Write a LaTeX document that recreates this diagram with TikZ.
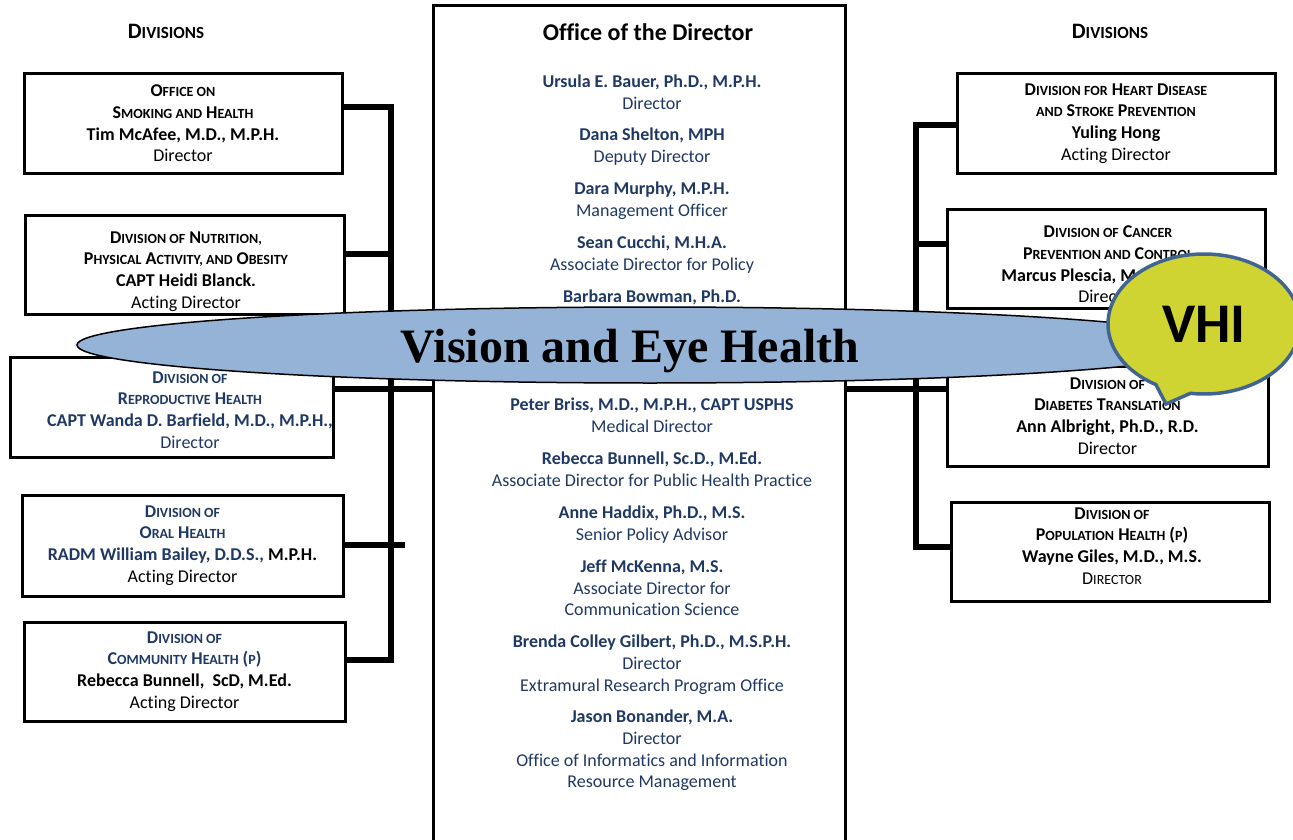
\documentclass[tikz,border=0pt]{standalone}
\usepackage{fontspec}
\setmainfont{Carlito}[Ligatures=NoCommon]
\newfontfamily\visionfont{Liberation Serif}
\usetikzlibrary{shapes.geometric, shapes.callouts}

\definecolor{cdcnavy}{RGB}{31,56,100}
\definecolor{vhblue}{RGB}{149,179,215}
\definecolor{vhigreen}{RGB}{207,212,50}
\definecolor{vhiedge}{RGB}{65,100,145}

% faked small capitals for the division names
\newcommand\sct[1]{{\fontsize{14}{14}\selectfont #1}}
\newcommand\sctbig[1]{{\fontsize{17}{17}\selectfont #1}}

\begin{document}
\begin{tikzpicture}[
   x=1pt, y=-1pt,
   divbox/.style={draw, line width=3pt, align=center, inner sep=0pt,
      font=\fontsize{18}{21.6}\selectfont},
   boxtext/.style={align=center, inner sep=0pt, font=\fontsize{18}{21.6}\selectfont},
   staff/.style={align=center, anchor=north, inner sep=0pt, text=cdcnavy,
      font=\fontsize{18}{21.6}\selectfont},
   heading/.style={anchor=base, inner sep=0pt, font=\fontsize{22}{22}\selectfont\bfseries},
   bus/.style={line width=5.5pt},
]
\useasboundingbox (0,0) rectangle (1293,840);

% --- column headings
\node[heading] (divleft)  at (166,39)  {D\sctbig{IVISIONS}};
\node[heading] (divright) at (1110,39) {D\sctbig{IVISIONS}};

% --- left divisions
\node[divbox, minimum width=318, minimum height=99] (smoke) at (183,123.5)
   {\textbf{O\sct{FFICE ON}}\\
    \textbf{S\sct{MOKING AND} H\sct{EALTH}}\\
    \textbf{Tim McAfee, M.D., M.P.H.}\\
    Director};

\node[divbox, minimum width=319, minimum height=99] (nutri) at (184.5,264.5) {};
\node[boxtext] (nutritxt) at (186,271.5)
   {\textbf{D\sct{IVISION OF} N\sct{UTRITION,}}\\
    \textbf{P\sct{HYSICAL} A\sct{CTIVITY, AND} O\sct{BESITY}}\\
    \textbf{CAPT Heidi Blanck.}\\
    Acting Director};

\node[divbox, minimum width=323, minimum height=100] (repro) at (171.5,407) {};
\node[boxtext, text=cdcnavy] (reprotxt) at (190,410)
   {\textbf{D\sct{IVISION OF}}\\
    \textbf{R\sct{EPRODUCTIVE} H\sct{EALTH}}\\
    \textbf{CAPT Wanda D. Barfield, M.D., M.P.H.,}\\
    Director};

\node[divbox, minimum width=321, minimum height=101] (oral) at (182.5,545.5)
   {\textcolor{cdcnavy}{\textbf{D\sct{IVISION OF}}}\\
    \textcolor{cdcnavy}{\textbf{O\sct{RAL} H\sct{EALTH}}}\\
    \textbf{\textcolor{cdcnavy}{RADM William Bailey, D.D.S.,} M.P.H.}\\
    Acting Director};

\node[divbox, minimum width=321, minimum height=99] (comm) at (184.5,671.5)
   {\textcolor{cdcnavy}{\textbf{D\sct{IVISION OF}}}\\
    \textcolor{cdcnavy}{\textbf{C\sct{OMMUNITY} H\sct{EALTH} (\sct{P})}}\\
    \textbf{Rebecca Bunnell,\ \ ScD, M.Ed.}\\
    Acting Director};

% --- right divisions
\node[divbox, minimum width=318, minimum height=99] (heart) at (1116,123.5)
   {\textbf{D\sct{IVISION FOR} H\sct{EART} D\sct{ISEASE}}\\
    \textbf{\sct{AND} S\sct{TROKE} P\sct{REVENTION}}\\
    \textbf{Yuling Hong}\\
    Acting Director};

\node[divbox, minimum width=318, minimum height=99] (cancer) at (1106,258.5) {};
\node[boxtext] (cancertxt) at (1108,264.5)
   {\textbf{D\sct{IVISION OF} C\sct{ANCER}}\\
    \textbf{P\sct{REVENTION AND} C\sct{ONTROL}}\\
    \textbf{Marcus Plescia, M.D., M.P.H.}\\
    Director};

\node[divbox, minimum width=321, minimum height=100] (diab) at (1107.5,416)
   {\textbf{D\sct{IVISION OF}}\\
    \textbf{D\sct{IABETES} T\sct{RANSLATION}}\\
    \textbf{Ann Albright, Ph.D., R.D.}\\
    Director};

\node[divbox, minimum width=318, minimum height=99] (pop) at (1110,551.5) {};
\node[boxtext] (poptxt) at (1112,546)
   {\textbf{D\sct{IVISION OF}}\\
    \textbf{P\sct{OPULATION} H\sct{EALTH} (\sct{P})}\\
    \textbf{Wayne Giles, M.D., M.S.}\\
    D\sct{IRECTOR}};

% --- office of the director
\node[draw, line width=3pt, minimum width=412, minimum height=844] (office) at (639,428) {};
\node[heading, font=\fontsize{24}{24}\selectfont\bfseries] (odtitle) at (648,41)
   {Office of the Director};

\node[staff] (bauer) at (652,75)
   {\textbf{Ursula E. Bauer, Ph.D., M.P.H.}\\Director};
\node[staff] (shelton) at (652,128)
   {\textbf{Dana Shelton, MPH}\\Deputy Director};
\node[staff] (murphy) at (652,182)
   {\textbf{Dara Murphy, M.P.H.}\\Management Officer};
\node[staff] (cucchi) at (652,236)
   {\textbf{Sean Cucchi, M.H.A.}\\Associate Director for Policy};
\node[staff] (bowman) at (652,290)
   {\textbf{Barbara Bowman, Ph.D.}};
\node[staff] (briss) at (652,398)
   {\textbf{Peter Briss, M.D., M.P.H., CAPT USPHS}\\Medical Director};
\node[staff] (bunnell) at (652,452)
   {\textbf{Rebecca Bunnell, Sc.D., M.Ed.}\\Associate Director for Public Health Practice};
\node[staff] (haddix) at (652,506)
   {\textbf{Anne Haddix, Ph.D., M.S.}\\Senior Policy Advisor};
\node[staff] (mckenna) at (652,560)
   {\textbf{Jeff McKenna, M.S.}\\Associate Director for\\Communication Science};
\node[staff] (gilbert) at (652,635)
   {\textbf{Brenda Colley Gilbert, Ph.D., M.S.P.H.}\\Director\\Extramural Research Program Office};
\node[staff] (bonander) at (652,710)
   {\textbf{Jason Bonander, M.A.}\\Director\\Office of Informatics and Information\\Resource Management};

% --- bus coordinates
\coordinate (lbus top)   at (391,107);
\coordinate (lbus nutri) at (391,254);
\coordinate (lrow)       at (391,389);
\coordinate (lbus oral)  at (405,545);
\coordinate (lbus bot)   at (391,660);
\coordinate (rbus top)    at (916,125);
\coordinate (rbus cancer) at (916,244);
\coordinate (rrow)        at (916,389);
\coordinate (rbus bot)    at (916,547);

% left bus
\draw[bus] (smoke.east |- lbus top) -| (lbus bot) -- (comm.east |- lbus bot);
\draw[bus] (nutri.east |- lbus nutri) -- (lbus nutri);
\draw[bus] (repro.east |- lrow) -- (office.west |- lrow);
\draw[bus] (oral.east |- lbus oral) -- (lbus oral);

% right bus
\draw[bus] (heart.west |- rbus top) -| (rbus bot) -- (pop.west |- rbus bot);
\draw[bus] (cancer.west |- rbus cancer) -- (rbus cancer);
\draw[bus] (office.east |- rrow) -- (diab.west |- rrow);

% --- the banner on top
\node[ellipse, draw, line width=1.5pt, fill=vhblue, inner sep=0pt,
      minimum width=1146, minimum height=76] (vision) at (650,345) {};
\node[inner sep=0pt, font=\visionfont\fontsize{48}{48}\selectfont\bfseries] (visiontxt)
   at (630,351) {Vision and Eye Health};

\node[ellipse callout, draw=vhiedge, line width=3.5pt, fill=vhigreen, inner sep=0pt,
      minimum width=192, minimum height=140, callout pointer arc=22,
      callout absolute pointer={(1166,404)},
      font=\fontsize{56}{56}\selectfont\bfseries] (vhi) at (1204,324) {VHI};

\end{tikzpicture}
\end{document}
